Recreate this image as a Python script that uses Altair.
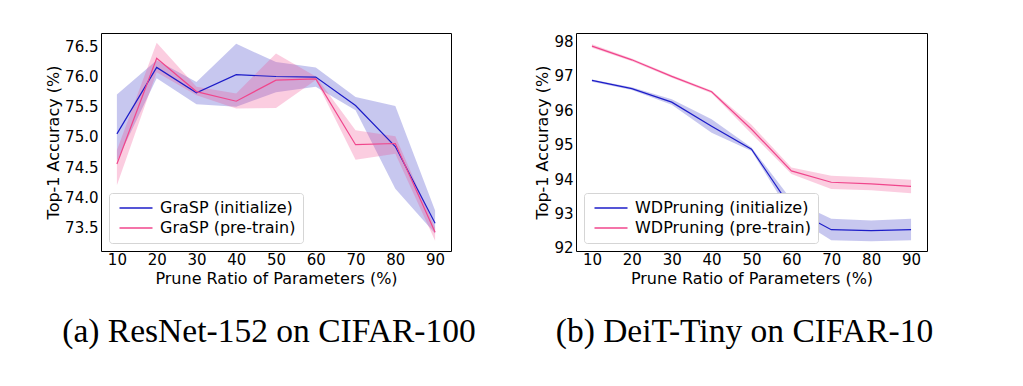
import altair as alt
import pandas as pd

ratios = [10, 20, 30, 40, 50, 60, 70, 80, 90]

# (a) ResNet-152 on CIFAR-100
grasp_names = ["GraSP (initialize)", "GraSP (pre-train)"]
grasp_init = [75.05, 76.15, 75.73, 76.03, 76.00, 75.99, 75.52, 74.84, 73.57]
grasp_init_lo = [74.60, 75.97, 75.54, 75.50, 75.74, 75.83, 75.44, 74.14, 73.40]
grasp_init_hi = [75.70, 76.27, 75.91, 76.54, 76.24, 76.15, 75.66, 75.51, 73.78]
grasp_pre = [74.55, 76.30, 75.75, 75.59, 75.94, 75.96, 74.87, 74.89, 73.42]
grasp_pre_lo = [74.20, 76.07, 75.69, 75.47, 75.48, 75.94, 74.62, 74.72, 73.28]
grasp_pre_hi = [74.78, 76.56, 75.83, 75.72, 76.38, 76.00, 75.11, 75.01, 73.50]

# (b) DeiT-Tiny on CIFAR-10
wd_names = ["WDPruning (initialize)", "WDPruning (pre-train)"]
wd_init = [96.87, 96.63, 96.24, 95.54, 94.87, 93.15, 92.53, 92.50, 92.53]
wd_init_lo = [96.83, 96.59, 96.16, 95.35, 94.82, 92.95, 92.22, 92.19, 92.22]
wd_init_hi = [96.90, 96.67, 96.32, 95.74, 94.92, 93.40, 92.85, 92.80, 92.85]
wd_pre = [97.87, 97.47, 96.99, 96.54, 95.45, 94.24, 93.91, 93.86, 93.79]
wd_pre_lo = [97.82, 97.43, 96.95, 96.50, 95.32, 94.15, 93.71, 93.68, 93.59]
wd_pre_hi = [97.92, 97.51, 97.03, 96.58, 95.58, 94.34, 94.10, 94.05, 93.98]

captions = ["(a) ResNet-152 on CIFAR-100", "(b) DeiT-Tiny on CIFAR-10"]

LINE_COLORS = ["#1c1cc8", "#f0468c"]
BAND_COLORS = ["#2020c0", "#f0468c"]
BAND_OPACITY = [0.25, 0.27]


def panel(names, series, ydomain, yticks, yfmt, caption, width, height):
    rows = []
    for name, (m, lo, hi) in zip(names, series):
        for x, a, b, c in zip(ratios, m, lo, hi):
            rows.append({"ratio": x, "series": name, "acc": a, "lo": b, "hi": c})
    df = pd.DataFrame(rows)
    base = alt.Chart(df)
    xenc = alt.X(
        "ratio:Q",
        scale=alt.Scale(domain=[6, 94], nice=False, zero=False),
        axis=alt.Axis(values=ratios, title="Prune Ratio of Parameters (%)", labelOverlap=False,
                      labelPadding=1, titlePadding=3),
    )
    yscale = alt.Scale(domain=ydomain, nice=False, zero=False)
    yaxis = alt.Axis(values=yticks, format=yfmt, title="Top-1 Accuracy (%)")
    layers = []
    for n, c, op in zip(names, BAND_COLORS, BAND_OPACITY):
        layers.append(
            base.transform_filter(alt.datum.series == n)
            .mark_area(color=c, opacity=op)
            .encode(x=xenc, y=alt.Y("lo:Q", scale=yscale, axis=yaxis), y2="hi:Q")
        )
    line = base.mark_line(strokeWidth=1.2).encode(
        x=xenc,
        y=alt.Y("acc:Q", scale=yscale, axis=yaxis),
        color=alt.Color(
            "series:N",
            scale=alt.Scale(domain=names, range=LINE_COLORS),
            legend=alt.Legend(
                title=None,
                orient="bottom-left",
                offset=8,
                symbolType="M-3.3,0L3.3,0",
                symbolSize=100,
                symbolStrokeWidth=1.5,
                symbolOffset=12,
                labelFont="DejaVu Sans",
                labelFontSize=16,
                labelColor="black",
                labelOffset=16,
                labelLimit=0,
                fillColor="white",
                strokeColor="#d5d5d5",
                cornerRadius=3,
                padding=7,
                rowPadding=4,
            ),
        ),
    )
    layers.append(line)
    return alt.layer(*layers).properties(
        width=width,
        height=height,
        title=alt.Title(
            caption,
            orient="bottom",
            anchor="middle",
            frame="group",
            font="Liberation Serif",
            fontSize=33.5,
            fontWeight="normal",
            color="black",
            offset=30,
            dx=-7,
        ),
    )


left = panel(
    grasp_names,
    [(grasp_init, grasp_init_lo, grasp_init_hi), (grasp_pre, grasp_pre_lo, grasp_pre_hi)],
    [73.11, 76.72],
    [73.5, 74.0, 74.5, 75.0, 75.5, 76.0, 76.5],
    ".1f",
    captions[0],
    350,
    218,
)
right = panel(
    wd_names,
    [(wd_init, wd_init_lo, wd_init_hi), (wd_pre, wd_pre_lo, wd_pre_hi)],
    [91.91, 98.25],
    [92, 93, 94, 95, 96, 97, 98],
    "d",
    captions[1],
    351,
    218,
)

chart = (
    alt.hconcat(left, right, spacing=125, bounds="flush")
    .resolve_scale(color="independent", x="independent", y="independent")
    .configure_view(stroke="black", strokeWidth=1)
    .configure_axis(
        grid=False,
        domain=False,
        ticks=False,
        tickSize=0,
        labelPadding=3,
        titlePadding=3,
        labelFont="DejaVu Sans",
        labelFontSize=15,
        labelColor="black",
        titleFont="DejaVu Sans",
        titleFontSize=16,
        titleFontWeight="normal",
        titleColor="black",
    )
    .properties(padding={"left": 37, "top": 24, "right": 5, "bottom": 5}, background="white")
)

chart.save("out.html", embed_options={"renderer": "svg", "actions": False})
